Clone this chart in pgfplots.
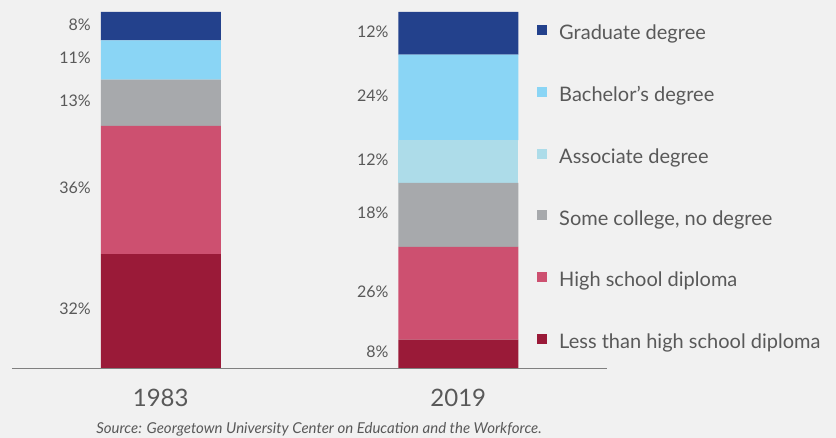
\documentclass[border=0pt]{standalone}
\usepackage{pgfplots}
\pgfplotsset{compat=1.18}
\usepackage{fontspec}
\setmainfont{Lato}
\definecolor{bg}{HTML}{F1F1F1}
\definecolor{txt}{HTML}{595959}
\definecolor{cGrad}{HTML}{23418C}
\definecolor{cBach}{HTML}{8AD5F5}
\definecolor{cAssoc}{HTML}{ADDCE9}
\definecolor{cSome}{HTML}{A7A9AC}
\definecolor{cHS}{HTML}{CD5070}
\definecolor{cLess}{HTML}{9A1A38}
\tikzset{vlab/.style={anchor=east, inner sep=0pt, font=\fontsize{16}{16}\selectfont, text=txt}}
\pgfplotsset{sqleg/.style={legend image code/.code={\fill[#1] (0pt,0.5pt) rectangle (9pt,9.5pt); \path[draw=none,fill=none] (0pt,1pt) -- (22pt,1pt);}}}
\begin{document}
\begin{tikzpicture}
\fill[bg] (0pt,0pt) rectangle (836pt,438pt);
\begin{axis}[
  at={(12pt,70pt)}, anchor=south west,
  scale only axis, width=595pt, height=356pt,
  xmin=-0.5, xmax=1.5, ymin=0, ymax=100,
  ybar stacked, bar width=120pt,
  hide y axis, axis x line*=bottom,
  x axis line style={draw=black!50, line width=0.8pt},
  xtick={0,1}, xticklabels={1983,2019}, major tick length=0pt,
  xticklabel style={font=\fontsize{24}{24}\selectfont, text=txt, yshift=-18pt},
  clip=false,
  legend cell align=left,
  legend style={at={(0.8824,1)}, anchor=north west, yshift=-13pt, draw=none, fill=none,
    inner sep=0pt, outer sep=0pt, row sep=42.6pt, column sep=0pt,
    font=\fontsize{20}{20}\selectfont, text=txt,
    nodes={inner sep=0pt, text height=14.5pt, text depth=4.5pt}},
]
\addplot[fill=cLess, draw=none, forget plot] coordinates {(0,32) (1,8)};
\addplot[fill=cHS, draw=none, forget plot] coordinates {(0,36) (1,26)};
\addplot[fill=cSome, draw=none, forget plot] coordinates {(0,13) (1,18)};
\addplot[fill=cAssoc, draw=none, forget plot] coordinates {(0,0) (1,12)};
\addplot[fill=cBach, draw=none, forget plot] coordinates {(0,11) (1,24)};
\addplot[fill=cGrad, draw=none, forget plot] coordinates {(0,8) (1,12)};
\addlegendimage{sqleg=cGrad}
\addlegendentry{Graduate degree}
\addlegendimage{sqleg=cBach}
\addlegendentry{Bachelor's degree}
\addlegendimage{sqleg=cAssoc}
\addlegendentry{Associate degree}
\addlegendimage{sqleg=cSome}
\addlegendentry{Some college, no degree}
\addlegendimage{sqleg=cHS}
\addlegendentry{High school diploma}
\addlegendimage{sqleg=cLess}
\addlegendentry{Less than high school diploma}
\node[vlab] at (axis cs:-0.235,16.5) {32\%};
\node[vlab] at (axis cs:-0.235,50.5) {36\%};
\node[vlab] at (axis cs:-0.235,75) {13\%};
\node[vlab] at (axis cs:-0.235,87) {11\%};
\node[vlab] at (axis cs:-0.235,96.5) {8\%};
\node[vlab] at (axis cs:0.766,4.5) {8\%};
\node[vlab] at (axis cs:0.766,21.5) {26\%};
\node[vlab] at (axis cs:0.766,43.5) {18\%};
\node[vlab] at (axis cs:0.766,58.5) {12\%};
\node[vlab] at (axis cs:0.766,76.5) {24\%};
\node[vlab] at (axis cs:0.766,94.5) {12\%};
\end{axis}
\node[font=\itshape\fontsize{15}{15}\selectfont, text=txt, inner sep=0pt] at (319pt,9pt) {Source: Georgetown University Center on Education and the Workforce.};
\end{tikzpicture}
\end{document}
